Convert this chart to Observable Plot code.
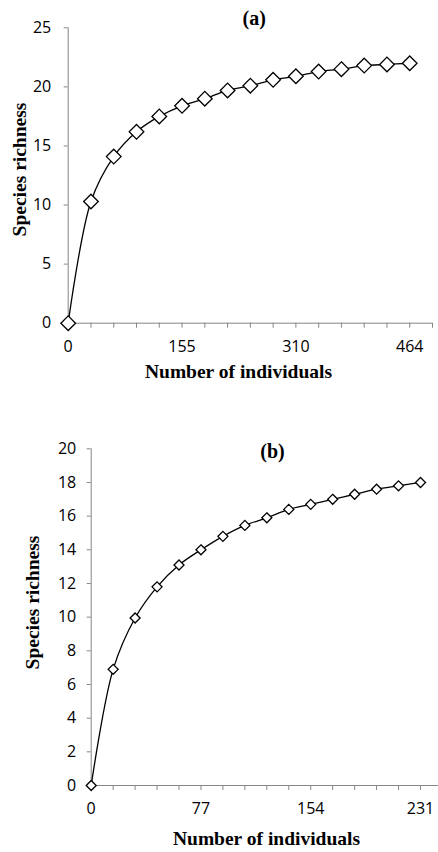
<!DOCTYPE html>
<html>
<head>
<meta charset="utf-8">
<script src="https://cdn.jsdelivr.net/npm/d3@7"></script>
<script src="https://cdn.jsdelivr.net/npm/@observablehq/plot@0.6"></script>
<style>
  html, body { margin: 0; padding: 0; background: #fff; }
  #wrap { position: relative; width: 438px; height: 852px; overflow: hidden; }
  #pa { position: absolute; left: 0; top: 0; }
  #pb { position: absolute; left: 0; top: 400px; }
</style>
</head>
<body>
<div id="wrap"><div id="pa"></div><div id="pb"></div></div>
<script>
// Panel (a)
const richnessA = [0, 10.3, 14.1, 16.2, 17.5, 18.4, 19.0, 19.7, 20.1, 20.6, 20.9, 21.3, 21.5, 21.8, 21.9, 22.0];
const xTickLabelsA = ["0", "155", "310", "464"];
const yTicksA = [0, 5, 10, 15, 20, 25];
// Panel (b)
const richnessB = [0, 6.9, 9.95, 11.8, 13.1, 14.0, 14.8, 15.45, 15.9, 16.4, 16.7, 17.0, 17.3, 17.6, 17.8, 18.0];
const xTickLabelsB = ["0", "77", "154", "231"];
const yTicksB = [0, 2, 4, 6, 8, 10, 12, 14, 16, 18, 20];

const AXIS = "#868686";
const SERIF = "'Liberation Serif', 'DejaVu Serif', serif";

function panel(opts) {
  const data = opts.values.map((v, i) => ({i, v}));
  const nTicks = d3.range(0, Math.floor(opts.xMax) + 1);
  const labelEvery = 5;
  return Plot.plot({
    width: 438,
    height: opts.height,
    marginTop: opts.mt,
    marginLeft: opts.ml,
    marginRight: opts.mr,
    marginBottom: opts.mb,
    style: {fontFamily: "'Open Sans', sans-serif", fontSize: "16px", color: "#000", background: "#fff", overflow: "visible"},
    x: {domain: [0, opts.xMax], axis: null},
    y: {domain: opts.yDomain, axis: null},
    marks: [
      Plot.ruleX([0], {stroke: AXIS, strokeWidth: 1}),
      Plot.ruleY([0], {stroke: AXIS, strokeWidth: 1}),
      Plot.axisX({ticks: nTicks, tickSize: 5, tickPadding: opts.xPad, stroke: AXIS, fill: "#000", label: null,
        tickFormat: i => i % labelEvery === 0 ? (opts.xLabels[i / labelEvery] ?? "") : ""}),
      Plot.axisY({ticks: opts.yTicks, tickSize: 4, tickPadding: opts.yPad, stroke: AXIS, fill: "#000", label: null,
        tickFormat: d => String(d)}),
      Plot.line(data, {x: "i", y: "v", curve: "catmull-rom", stroke: "#000", strokeWidth: 1.3}),
      Plot.dot(data, {x: "i", y: "v", symbol: "diamond2", r: opts.r, fill: "#fff", stroke: "#000", strokeWidth: 1.3}),
      Plot.text([opts.title], {frameAnchor: "top-left", dx: opts.titleX - opts.ml, dy: opts.titleY - opts.mt,
        textAnchor: "middle", lineAnchor: "middle", fontFamily: SERIF, fontWeight: "bold", fontSize: 20}),
      Plot.text(["Species richness"], {frameAnchor: "top-left", dx: opts.ylabX - opts.ml, dy: opts.ylabY - opts.mt,
        rotate: -90, textAnchor: "middle", lineAnchor: "middle", fontFamily: SERIF, fontWeight: "bold", fontSize: 19.5}),
      Plot.text(["Number of individuals"], {frameAnchor: "top-left", dx: opts.xlabX - opts.ml, dy: opts.xlabY - opts.mt,
        textAnchor: "middle", lineAnchor: "middle", fontFamily: SERIF, fontWeight: "bold", fontSize: 19.5})
    ]
  });
}

document.getElementById("pa").append(panel({
  values: richnessA, xLabels: xTickLabelsA, yTicks: yTicksA, yDomain: [0, 25], xMax: 16,
  height: 390, mt: 27.3, ml: 67.7, mr: 6, mb: 390 - 322.7,
  xPad: 12, yPad: 13, r: 6.6,
  title: "(a)", titleX: 253.7, titleY: 18,
  ylabX: 19, ylabY: 169,
  xlabX: 238, xlabY: 371
}));

document.getElementById("pb").append(panel({
  values: richnessB, xLabels: xTickLabelsB, yTicks: yTicksB, yDomain: [0, 20], xMax: 15.82,
  height: 452, mt: 48.3, ml: 90.7, mr: 0, mb: 452 - 385,
  xPad: 12, yPad: 11, r: 4.5,
  title: "(b)", titleX: 272, titleY: 51,
  ylabX: 32, ylabY: 202,
  xlabX: 266, xlabY: 438
}));
</script>
</body>
</html>
